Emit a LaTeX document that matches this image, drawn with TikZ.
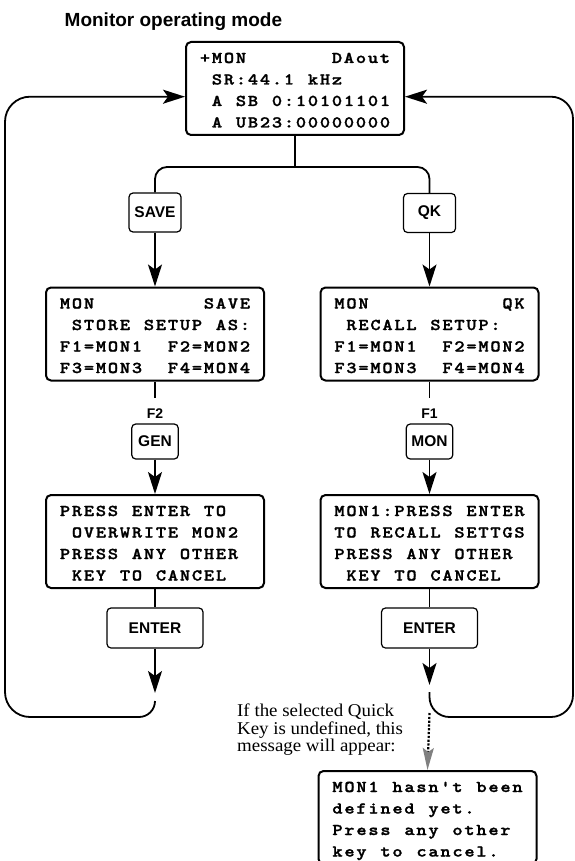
\documentclass[tikz,border=0pt]{standalone}
\usepackage{fontspec}
\usepackage{graphicx}
\newfontfamily\helv{Liberation Sans}
\newfontfamily\tms{Liberation Serif}
\newfontfamily\lcdfont{lmmonolt10-bold.otf}[FakeBold=1.4]
\usetikzlibrary{arrows.meta}

% one LCD character cell: fixed pitch, ~ stands for a blank cell
\makeatletter
\newcommand\lcdchars[1]{\@tfor\lcd@c:=#1\do{\makebox[12pt]{\scalebox{1.18}[1]{\lcd@c}}}}
\makeatother
\newcommand\lcdrow[1]{\hbox to 218pt{\hskip13pt\smash{\lcdchars{#1}}\hss}}
% a 16x4 display, 218pt x 93pt
\newcommand\lcdscreen[4]{\vbox to 93pt{\offinterlineskip
  \lcdfont\fontsize{16.5}{18}\selectfont
  \vskip21pt\lcdrow{#1}\vskip21.5pt\lcdrow{#2}\vskip21.5pt\lcdrow{#3}\vskip21.5pt\lcdrow{#4}\vfil}}

\tikzset{
  lcd/.style={draw, line width=2pt, rounded corners=5pt, inner sep=0pt},
  key/.style={draw, line width=1.2pt, rounded corners=4pt, inner sep=0pt,
    font=\helv\bfseries\fontsize{15.5}{18}\selectfont},
  flabel/.style={inner sep=0pt, font=\helv\bfseries\fontsize{14}{16}\selectfont},
  conn/.style={line width=1.8pt},
  arr/.style={conn, -{Stealth[length=22pt,width=14pt,inset=5pt]}},
  dotarr/.style={line width=2.2pt, dash pattern=on 2.2pt off 1.6pt,
    -{Stealth[length=22pt,width=11pt,inset=4pt,color=black!50]}},
}

\begin{document}
\begin{tikzpicture}[x=1pt,y=-1pt]
\clip (0,0) rectangle (574,861);
\fill[white] (0,0) rectangle (574,861);

\node[anchor=base west, inner sep=0pt, font=\helv\bfseries\fontsize{19}{22}\selectfont]
  (title) at (64.5,27) {Monitor operating mode};

% displays
\node[lcd] (top) at (295,88.5)
  {\lcdscreen{+MON~~~~~~~DAout}{~SR:44.1~kHz}{~A~SB~0:10101101}{~A~UB23:00000000}};
\node[lcd] (savelcd) at (155,334)
  {\lcdscreen{MON~~~~~~~~~SAVE}{~STORE~SETUP~AS:}{F1=MON1~~F2=MON2}{F3=MON3~~F4=MON4}};
\node[lcd] (qklcd) at (429.5,334)
  {\lcdscreen{MON~~~~~~~~~~~QK}{~RECALL~SETUP:}{F1=MON1~~F2=MON2}{F3=MON3~~F4=MON4}};
\node[lcd] (overwrite) at (155,541.5)
  {\lcdscreen{PRESS~ENTER~TO}{~OVERWRITE~MON2}{PRESS~ANY~OTHER}{~KEY~TO~CANCEL}};
\node[lcd] (recall) at (429.5,541.5)
  {\lcdscreen{MON1:PRESS~ENTER}{TO~RECALL~SETTGS}{PRESS~ANY~OTHER}{~KEY~TO~CANCEL}};
\node[lcd] (undef) at (427.5,817.5)
  {\lcdscreen{MON1~hasn\textquotesingle t~been}{defined~yet.}{Press~any~other}{key~to~cancel.}};

% keys
\node[key, minimum width=52pt, minimum height=39pt] (savekey) at (155,212.5) {SAVE};
\node[key, minimum width=52pt, minimum height=39pt] (qkkey) at (429.5,213) {QK};
\node[flabel] (f2) at (155,413.5) {F2};
\node[flabel] (f1) at (429.5,413.5) {F1};
\node[key, minimum width=46.5pt, minimum height=35pt] (genkey) at (155,441.5) {GEN};
\node[key, minimum width=46.5pt, minimum height=35pt] (monkey) at (429.5,441.5) {MON};
\node[key, minimum width=96pt, minimum height=40pt] (enterl) at (155,628) {ENTER};
\node[key, minimum width=96pt, minimum height=40pt] (enterr) at (429.5,628) {ENTER};

% note beside the dotted arrow
\node[anchor=north west, inner sep=0pt, font=\tms\fontsize{18}{20}\selectfont]
  (note) at (237,716.7) {\scalebox{1.05}[1]{\vbox{\offinterlineskip
    \hbox{\smash{If the selected Quick}}\vskip17.5pt
    \hbox{\smash{Key is undefined, this}}\vskip17.5pt
    \hbox{\smash{message will appear:}}}}};

% helper points
\coordinate (br) at (295,167);
\coordinate (loopy) at (0,96.7);
\coordinate (tipl) at (155,693);
\coordinate (tipr) at (429.5,685);
\coordinate (retl) at (155,701);
\coordinate (retr) at (429.5,692);
\coordinate (dots) at (429.5,713);

% branch to the two keys
\draw[conn] (top.south) -- (br);
\draw[conn, rounded corners=12pt] (savekey.north) -- (savekey.north |- br)
  -- (qkkey.north |- br) -- (qkkey.north);
\draw[arr] (savekey.south) -- (savelcd.north);
\draw[arr] (qkkey.south) -- (qklcd.north);

% SAVE column
\draw[conn, shorten >=10pt] (savelcd.south) -- (f2.north);
\draw[arr] (genkey.south) -- (overwrite.north);
\draw[conn] (overwrite.south) -- (enterl.north);
\draw[arr] (enterl.south) -- (tipl);

% QK column
\draw[conn, shorten >=10pt] (qklcd.south) -- (f1.north);
\draw[arr] (monkey.south) -- (recall.north);
\draw[conn] (recall.south) -- (enterr.north);
\draw[arr] (enterr.south) -- (tipr);

% return loops to the monitor display
\draw[conn, rounded corners=16pt] (retl) -- (155,717) -- (30,717);
\draw[arr, rounded corners=25pt] (30,717) -- (5,717) -- (5,96.7) -- (top.west |- loopy);
\draw[conn, rounded corners=20pt] (retr) -- (429.5,717) -- (540,717);
\draw[arr, rounded corners=22pt] (540,717) -- (573,717) -- (573,96.7) -- (top.east |- loopy);

% undefined quick key
\draw[dotarr] (dots) -- (undef.north);
\end{tikzpicture}
\end{document}
